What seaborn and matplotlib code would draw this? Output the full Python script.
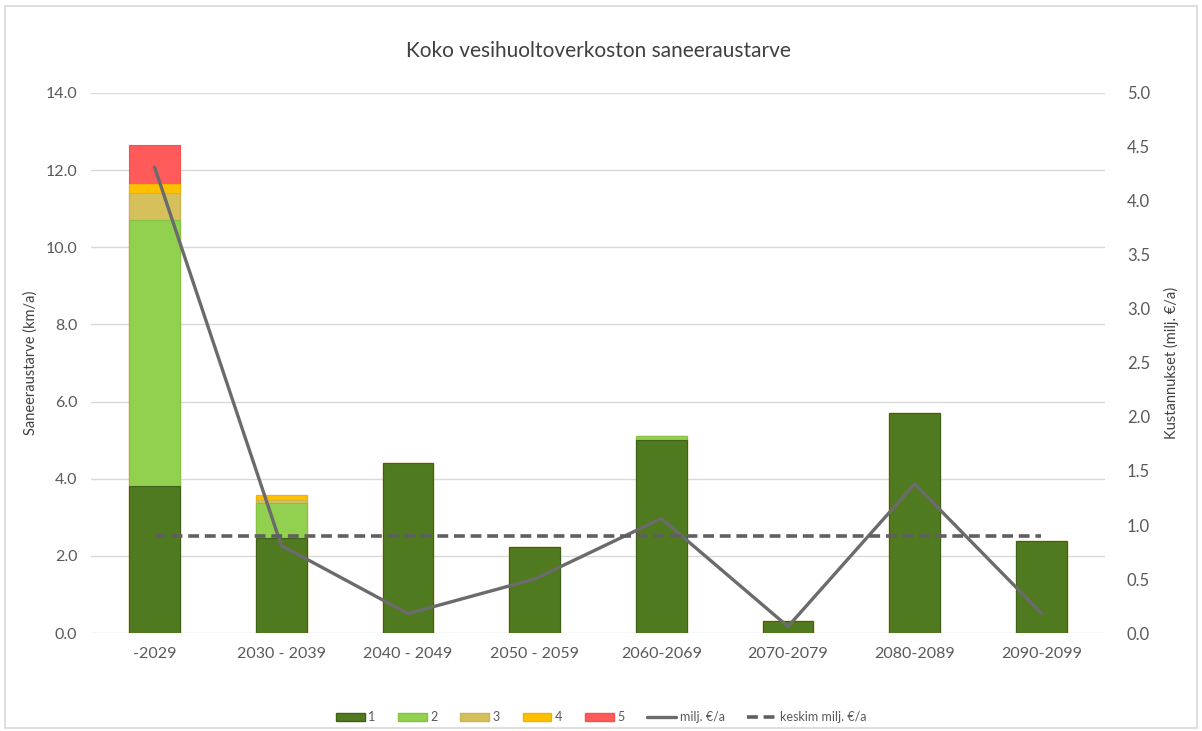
import numpy as np
import pandas as pd
import matplotlib
matplotlib.use("Agg")
import matplotlib.pyplot as plt
from matplotlib.patches import Patch, Rectangle
from matplotlib.lines import Line2D
from matplotlib.ticker import FormatStrFormatter, MultipleLocator
import seaborn as sns

# ---- data ----
categories = ["-2029", "2030 - 2039", "2040 - 2049", "2050 - 2059",
              "2060-2069", "2070-2079", "2080-2089", "2090-2099"]
class1 = [3.8, 2.46, 4.4, 2.23, 5.0, 0.3, 5.7, 2.39]
class2 = [6.9, 0.9, 0.0, 0.0, 0.1, 0.0, 0.0, 0.0]
class3 = [0.7, 0.1, 0.0, 0.0, 0.0, 0.0, 0.0, 0.0]
class4 = [0.25, 0.13, 0.0, 0.0, 0.0, 0.0, 0.0, 0.0]
class5 = [1.0, 0.0, 0.0, 0.0, 0.0, 0.0, 0.0, 0.0]
cost = [4.31, 0.81, 0.18, 0.50, 1.06, 0.06, 1.38, 0.185]
avg_cost = [0.9] * 8

series_names = ["1", "2", "3", "4", "5"]
series_vals = [class1, class2, class3, class4, class5]
series_colors = ["#507a1f", "#92d050", "#d6c05c", "#ffc000", "#ff5b5b"]
series_edges = ["#3f6117", "#86c242", "#c9b352", "#f0b400", "#f05252"]

sns.set_theme(style="white")
plt.rcParams["font.family"] = ["Lato", "DejaVu Sans"]

fig = plt.figure(figsize=(12.02, 7.31), dpi=100)
fig.patches.append(Rectangle((0.004, 0.004), 0.992, 0.988, transform=fig.transFigure,
                             fill=False, edgecolor="#d9d9d9", linewidth=1.2))
ax = fig.add_axes([0.076, 0.134, 0.843, 0.739])

df = pd.DataFrame({"cat": categories})
cum = np.zeros(len(categories))
cums = []
for v in series_vals:
    cum = cum + np.array(v)
    cums.append(cum.copy())
df_c = df.copy()
# draw from top (largest cumulative) down
for i in range(len(series_vals) - 1, -1, -1):
    df_c["val"] = cums[i]
    sns.barplot(data=df_c, x="cat", y="val", ax=ax, color=series_colors[i],
                saturation=1, width=0.4, edgecolor=series_edges[i], linewidth=0.8,
                zorder=2)

ax.set_ylim(0, 14)
ax.set_xlim(-0.5, len(categories) - 0.5)
ax.yaxis.set_major_locator(MultipleLocator(2))
ax.yaxis.set_major_formatter(FormatStrFormatter("%.1f"))
ax.grid(axis="y", color="#d9d9d9", linewidth=1, zorder=0)
ax.set_axisbelow(True)
for s in ax.spines.values():
    s.set_visible(False)
ax.tick_params(axis="y", length=0, labelsize=11.5, colors="#595959", pad=10)
ax.tick_params(axis="x", length=0, labelsize=11.5, colors="#595959", pad=10)
ax.set_xlabel("")
ax.set_ylabel("Saneeraustarve (km/a)", fontsize=10.5, color="#404040", labelpad=6)

ax2 = ax.twinx()
dfl = pd.DataFrame({"cat": categories, "cost": cost, "avg": avg_cost})
sns.lineplot(data=dfl, x="cat", y="cost", ax=ax2, color="#6b6b6b", linewidth=2.4,
             sort=False, zorder=3)
sns.lineplot(data=dfl, x="cat", y="avg", ax=ax2, color="#5f5f5f", linewidth=2.6,
             sort=False, zorder=3, linestyle=(0, (3, 1.6)))
ax2.set_ylim(0, 5)
ax2.set_xlim(-0.5, len(categories) - 0.5)
ax2.yaxis.set_major_locator(MultipleLocator(0.5))
ax2.yaxis.set_major_formatter(FormatStrFormatter("%.1f"))
for s in ax2.spines.values():
    s.set_visible(False)
ax2.grid(False)
ax2.tick_params(axis="y", length=0, labelsize=12, colors="#595959", pad=16)
ax2.set_ylabel("Kustannukset (milj. €/a)", fontsize=10.5, color="#404040", labelpad=10)
ax2.set_xlabel("")

ax.set_title("Koko vesihuoltoverkoston saneeraustarve", fontsize=15, color="#404040", pad=26)

handles = [Patch(facecolor=c, edgecolor=e) for c, e in zip(series_colors, series_edges)]
handles += [Line2D([0], [0], color="#6b6b6b", linewidth=2.4),
            Line2D([0], [0], color="#5f5f5f", linewidth=2.6, linestyle=(0, (3, 1.6)))]
labels = series_names + ["milj. €/a", "keskim milj. €/a"]
leg = fig.legend(handles, labels, loc="center", bbox_to_anchor=(0.5, 0.019), ncol=7,
                 frameon=False, fontsize=9, handlelength=2.3, handleheight=0.6,
                 columnspacing=1.8, handletextpad=0.3)
for t in leg.get_texts():
    t.set_color("#595959")

fig.savefig("out.png", dpi=100)
